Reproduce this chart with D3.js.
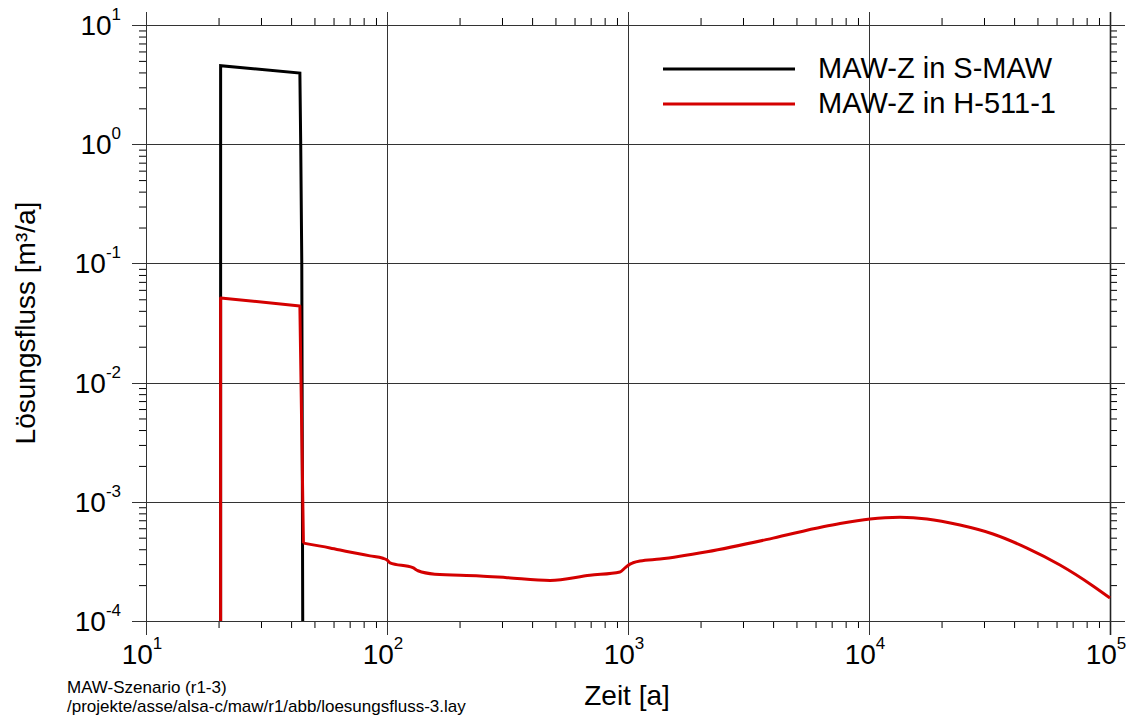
<!DOCTYPE html>
<html>
<head>
<meta charset="utf-8">
<script src="https://cdn.jsdelivr.net/npm/d3@7"></script>
<style>
  html, body { margin: 0; padding: 0; background: #fff; }
  svg { display: block; font-family: "Liberation Sans", Arial, sans-serif; }
</style>
</head>
<body>
<svg id="chart" width="1136" height="717"></svg>
<script>
// ---- data ----
const seriesNames = ["MAW-Z in S-MAW", "MAW-Z in H-511-1"];
const seriesColors = ["#000000", "#d40000"];

const blackTime  = [20.4, 20.4, 43.5, 43.85, 44.3, 44.7];
const blackFlow  = [1e-4, 4.55, 3.95, 1.0, 0.1, 1e-4];

// first four points are the rectangular pulse, the rest is the smooth tail
const redTime = [20.4, 20.4, 43.5, 45.0, 58, 70, 85, 96.2, 100, 102.9, 128, 134.5, 158, 243, 315, 475, 695, 926, 972, 1019, 1049, 1121, 1357, 2127, 4000, 6445, 7582, 10100, 11650, 13450, 17400, 23860, 32690, 45250, 62000, 85000, 100000];
const redFlow = [1e-4, 0.0513, 0.044, 4.5e-4, 4.1e-4, 3.79e-4, 3.52e-4, 3.36e-4, 3.25e-4, 3.08e-4, 2.80e-4, 2.64e-4, 2.47e-4, 2.39e-4, 2.31e-4, 2.19e-4, 2.42e-4, 2.58e-4, 2.79e-4, 3.0e-4, 3.08e-4, 3.19e-4, 3.31e-4, 3.81e-4, 4.96e-4, 6.18e-4, 6.58e-4, 7.18e-4, 7.35e-4, 7.41e-4, 7.18e-4, 6.38e-4, 5.37e-4, 4.09e-4, 2.95e-4, 1.97e-4, 1.56e-4];

const xTickExps = [1, 2, 3, 4, 5];
const yTickExps = [1, 0, -1, -2, -3, -4];

const xTitle = "Zeit [a]";
const yTitle = "Lösungsfluss [m³/a]";
const footLines = ["MAW-Szenario (r1-3)", "/projekte/asse/alsa-c/maw/r1/abb/loesungsfluss-3.lay"];

// ---- layout ----
const L = 146, R = 1110, T = 25, B = 621;
const svg = d3.select("#chart");
const x = d3.scaleLog().domain([10, 1e5]).range([L, R]);
const y = d3.scaleLog().domain([1e-4, 10]).range([B, T]);

function minorValues(lo, hi) {
  const out = [];
  for (let e = lo; e < hi; e++) for (let k = 2; k <= 9; k++) out.push(k * Math.pow(10, e));
  return out;
}
const xMinor = minorValues(1, 5);
const yMinor = minorValues(-4, 1);
const xMajor = xTickExps.map(e => Math.pow(10, e));
const yMajor = yTickExps.map(e => Math.pow(10, e));

const gridColor = "#333";

function styleAxis(g) {
  g.select(".domain").remove();
  g.selectAll("line").attr("stroke", "#000").attr("stroke-width", 1);
  g.selectAll("text").remove();
}
svg.append("g").attr("transform", `translate(0,${B})`)
  .call(d3.axisBottom(x).tickValues(xMinor).tickSize(7).tickFormat("")).call(styleAxis);
svg.append("g").attr("transform", `translate(0,${T})`)
  .call(d3.axisTop(x).tickValues(xMinor).tickSize(7).tickFormat("")).call(styleAxis);
svg.append("g").attr("transform", `translate(${L},0)`)
  .call(d3.axisLeft(y).tickValues(yMinor).tickSize(7).tickFormat("")).call(styleAxis);
svg.append("g").attr("transform", `translate(${R},0)`)
  .call(d3.axisRight(y).tickValues(yMinor).tickSize(7).tickFormat("")).call(styleAxis);

// major gridlines (extended past the frame)
svg.append("g").selectAll("line").data(xMajor).join("line")
  .attr("x1", d => Math.round(x(d)) + 0.5).attr("x2", d => Math.round(x(d)) + 0.5)
  .attr("y1", T - 13).attr("y2", B + 14)
  .attr("stroke", d => (d === 1e5 ? "#222" : gridColor))
  .attr("stroke-width", d => (d === 1e5 ? 1.6 : 1));
svg.append("g").selectAll("line").data(yMajor).join("line")
  .attr("y1", d => Math.round(y(d)) + 0.5).attr("y2", d => Math.round(y(d)) + 0.5)
  .attr("x1", L - 14).attr("x2", R + 15)
  .attr("stroke", gridColor).attr("stroke-width", 1);

// tick labels
const fs = 28, sfs = 17;
const xl = svg.append("g").selectAll("text").data(xTickExps).join("text")
  .attr("x", d => x(Math.pow(10, d)) - 4).attr("y", 664)
  .attr("text-anchor", "middle").attr("font-size", fs).attr("fill", "#000");
xl.append("tspan").text("10");
xl.append("tspan").attr("font-size", sfs).attr("dy", -15).text(d => String(d));

const yl = svg.append("g").selectAll("text").data(yTickExps).join("text")
  .attr("x", 121).attr("y", d => y(Math.pow(10, d)) + 10)
  .attr("text-anchor", "end").attr("font-size", fs).attr("fill", "#000");
yl.append("tspan").text("10");
yl.append("tspan").attr("font-size", sfs).attr("dy", -15).text(d => String(d));

// axis titles
svg.append("text").attr("x", 627).attr("y", 705).attr("text-anchor", "middle")
  .attr("font-size", 28).text(xTitle);
svg.append("text").attr("transform", "translate(35,323) rotate(-90)").attr("text-anchor", "middle")
  .attr("font-size", 28).text(yTitle);

// footnote
svg.append("g").selectAll("text").data(footLines).join("text")
  .attr("x", 67).attr("y", (d, i) => 693 + i * 19)
  .attr("font-size", 17).text(d => d);

// data lines
const linear = d3.line().x(d => x(d[0])).y(d => y(d[1]));
const smooth = d3.line().x(d => x(d[0])).y(d => y(d[1])).curve(d3.curveMonotoneX);
const blackData = blackTime.map((t, i) => [t, blackFlow[i]]);
const redData = redTime.map((t, i) => [t, redFlow[i]]);

svg.append("path").datum(blackData).attr("d", linear)
  .attr("fill", "none").attr("stroke", seriesColors[0]).attr("stroke-width", 3)
  .attr("stroke-linejoin", "miter");
svg.append("path").datum(redData)
  .attr("d", d => linear(d.slice(0, 4)) + smooth(d.slice(3)))
  .attr("fill", "none").attr("stroke", seriesColors[1]).attr("stroke-width", 3)
  .attr("stroke-linejoin", "round").attr("stroke-linecap", "butt");

// legend
const leg = svg.append("g");
seriesNames.forEach((name, i) => {
  const yy = 69 + i * 35;
  leg.append("line").attr("x1", 663).attr("x2", 795).attr("y1", yy).attr("y2", yy)
    .attr("stroke", seriesColors[i]).attr("stroke-width", 3);
  leg.append("text").attr("x", 818).attr("y", yy + 9).attr("font-size", 29).text(name);
});
</script>
</body>
</html>
